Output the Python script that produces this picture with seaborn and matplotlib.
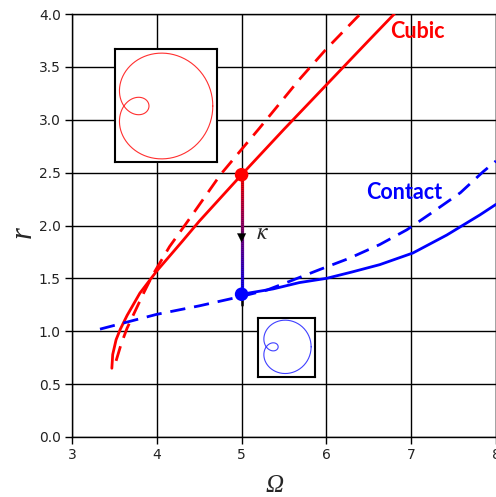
import numpy as np
import pandas as pd
import matplotlib
matplotlib.use("Agg")
import matplotlib.pyplot as plt
import matplotlib.colors as mcolors
from matplotlib.collections import LineCollection
import seaborn as sns

# Cubic-stiffness response: forced branch (solid) and backbone (dashed)
cubic_omega = [3.47, 3.48, 3.52, 3.57, 3.65, 3.80, 4.00, 4.30, 4.50, 5.00, 5.50, 6.00, 6.50, 6.80]
cubic_r = [0.65, 0.78, 0.92, 1.02, 1.15, 1.36, 1.57, 1.85, 2.04, 2.48, 2.91, 3.33, 3.75, 4.00]
cubic_bb_omega = [3.52, 3.58, 3.65, 3.75, 3.85, 3.95, 4.15, 4.40, 4.75, 5.00, 5.21, 5.68, 6.00, 6.35, 6.40]
cubic_bb_r = [0.72, 0.88, 1.03, 1.20, 1.37, 1.53, 1.80, 2.08, 2.48, 2.72, 2.92, 3.38, 3.67, 3.96, 4.00]

# Contact-stiffness response: forced branch (solid) and backbone (dashed)
contact_omega = [5.00, 5.37, 5.68, 6.00, 6.30, 6.63, 7.02, 7.42, 7.81, 8.00]
contact_r = [1.35, 1.40, 1.46, 1.50, 1.56, 1.63, 1.74, 1.91, 2.10, 2.20]
contact_bb_omega = [3.33, 4.00, 4.50, 5.00, 5.30, 5.56, 5.91, 6.27, 6.63, 6.95, 7.26, 7.58, 7.85, 8.00]
contact_bb_r = [1.02, 1.16, 1.24, 1.33, 1.39, 1.47, 1.58, 1.69, 1.82, 1.96, 2.13, 2.31, 2.51, 2.61]

# Operating points linked by the stiffness change kappa
omega_op = 5.0
r_cubic_op = 2.48
r_contact_op = 1.35

x_ticks = [3, 4, 5, 6, 7, 8]
y_ticks = [0.0, 0.5, 1.0, 1.5, 2.0, 2.5, 3.0, 3.5, 4.0]

# Orbit shapes (limacon r = b + a cos t) shown in the insets
orbit_a = 1.0
orbit_b_cubic = 0.56
orbit_b_contact = 0.58

sns.set_style("whitegrid", {"grid.color": "black", "axes.edgecolor": "black",
                            "xtick.color": "#222222", "ytick.color": "#222222"})
plt.rcParams["mathtext.fontset"] = "stix"

W, H = 496, 497
fig = plt.figure(figsize=(W / 100, H / 100), dpi=100)
ax = fig.add_axes([72 / W, 60 / H, 424 / W, 423 / H])

dash = (0, (5.5, 3.2))
sns.lineplot(x=cubic_omega, y=cubic_r, ax=ax, sort=False, estimator=None,
             color="red", lw=2.0, zorder=3)
sns.lineplot(x=cubic_bb_omega, y=cubic_bb_r, ax=ax, sort=False, estimator=None,
             color="red", lw=2.0, linestyle=dash, zorder=3)
sns.lineplot(x=contact_omega, y=contact_r, ax=ax, sort=False, estimator=None,
             color="blue", lw=2.0, zorder=3)
sns.lineplot(x=contact_bb_omega, y=contact_bb_r, ax=ax, sort=False, estimator=None,
             color="blue", lw=2.0, linestyle=dash, zorder=3)

# black arrow underneath, with a colour-graded shaft on top
ax.plot([omega_op, omega_op], [r_cubic_op, r_contact_op - 0.1], color="black", lw=1.8, zorder=4)
ax.annotate("", xy=(omega_op, 1.84), xytext=(omega_op, 1.99),
            arrowprops=dict(arrowstyle="-|>", color="black", lw=0.1,
                            mutation_scale=16, shrinkA=0, shrinkB=0), zorder=6)
n = 60
ys = np.linspace(r_cubic_op, r_contact_op, n + 1)
segs = [[(omega_op, ys[i]), (omega_op, ys[i + 1])] for i in range(n)]
cmap = mcolors.LinearSegmentedColormap.from_list("rb", ["red", "blue"])
lc = LineCollection(segs, colors=cmap(np.linspace(0, 1, n)), linewidths=2.3, zorder=5)
ax.add_collection(lc)
ax.text(5.25, 1.94, r"$\kappa$", fontsize=17, ha="center", va="center", zorder=7)

sns.scatterplot(x=[omega_op], y=[r_cubic_op], ax=ax, color="red", s=95,
                edgecolor="none", zorder=8)
sns.scatterplot(x=[omega_op], y=[r_contact_op], ax=ax, color="blue", s=95,
                edgecolor="none", zorder=8)

ax.text(7.07, 3.83, "Cubic", color="red", fontsize=15.5, fontweight="bold",
        family="Lato", ha="center", va="center")
ax.text(6.92, 2.31, "Contact", color="blue", fontsize=15.5, fontweight="bold",
        family="Lato", ha="center", va="center")

ax.set_xlim(3, 8)
ax.set_ylim(0, 4)
ax.set_xticks(x_ticks)
ax.set_yticks(y_ticks)
ax.set_yticklabels([f"{v:.1f}" for v in y_ticks])
ax.tick_params(axis="both", labelsize=10, length=5, width=1, color="black",
               direction="out", left=True, bottom=True, pad=3)
ax.grid(True, color="black", lw=1.0)
for s in ax.spines.values():
    s.set_color("black")
    s.set_linewidth(1.0)

# axis labels in an italic serif face
fig.text(275 / W, (H - 492) / H, "\u03a9", family="Liberation Serif", style="italic",
         fontsize=18, ha="center", va="baseline")
fig.text(23 / W, (H - 232) / H, "r", family="Liberation Serif", style="italic",
         fontsize=22, rotation=90, ha="center", va="center")


def draw_orbit(bounds, b, color, pad):
    ins = ax.inset_axes(bounds, transform=ax.transData, zorder=9)
    t = np.linspace(0, 2 * np.pi, 400)
    rr = b + orbit_a * np.cos(t)
    x, y = rr * np.cos(t), rr * np.sin(t)
    ins.plot(x, y, color=color, lw=0.8)
    wx = x.max() - x.min()
    wy = y.max() - y.min()
    ins.set_xlim(x.min() - pad[0] * wx, x.max() + pad[1] * wx)
    ins.set_ylim(y.min() - pad[2] * wy, y.max() + pad[3] * wy)
    ins.set_xticks([])
    ins.set_yticks([])
    ins.grid(False)
    ins.set_facecolor("white")
    for s in ins.spines.values():
        s.set_color("black")
        s.set_linewidth(1.5)


draw_orbit([3.51, 2.60, 1.20, 1.07], orbit_b_cubic, "#ff3030", (0.045, 0.045, 0.03, 0.04))
draw_orbit([5.19, 0.57, 0.68, 0.56], orbit_b_contact, "#4040ff", (0.13, 0.09, 0.06, 0.05))

fig.savefig("out.png", dpi=100)
